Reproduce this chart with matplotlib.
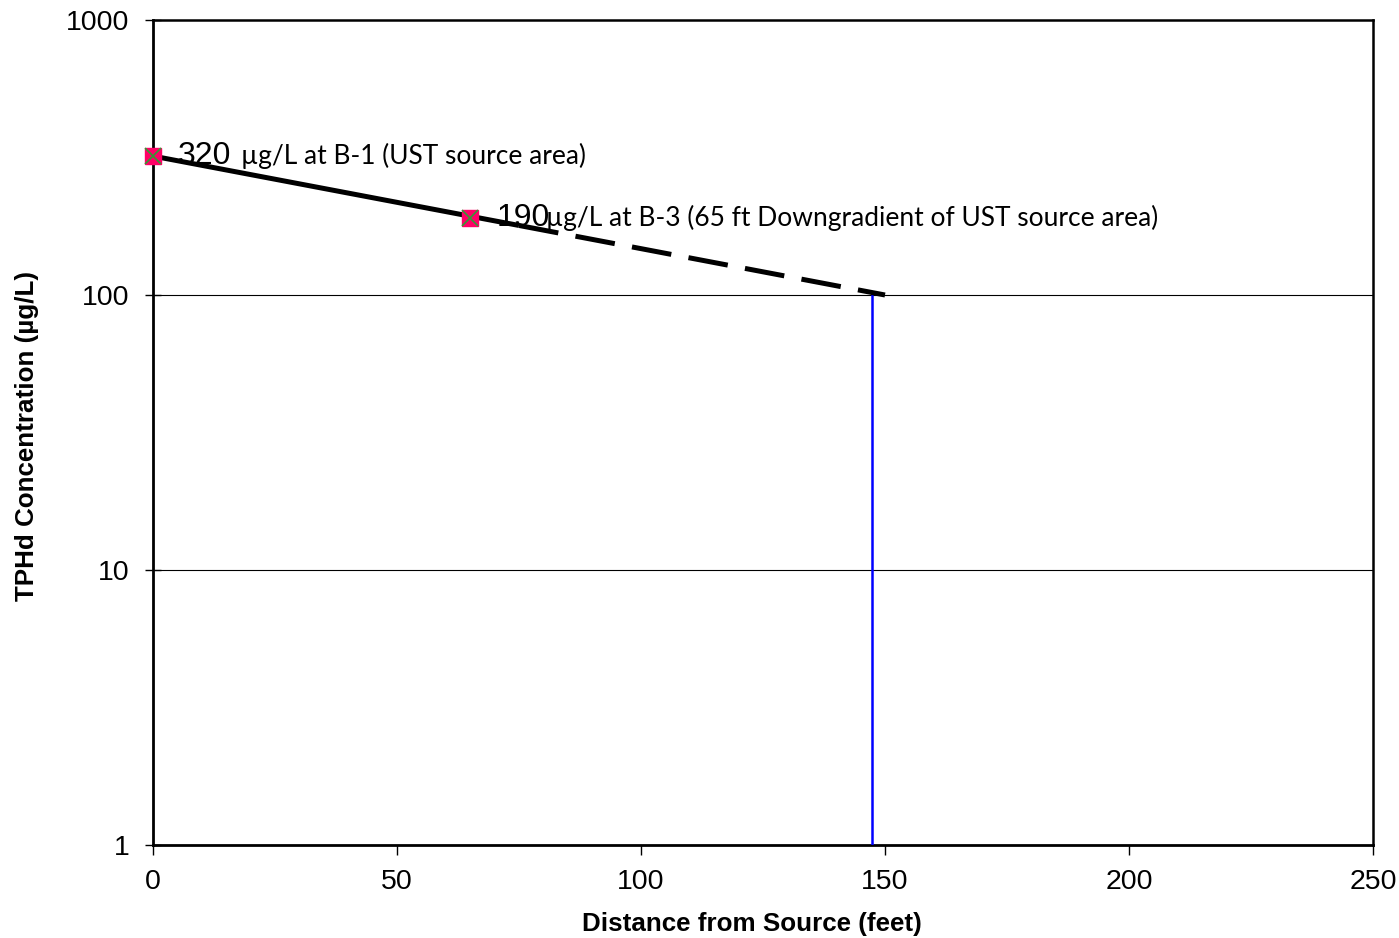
# Imports
import numpy as np
import matplotlib
matplotlib.use("Agg")
import matplotlib.pyplot as plt

# Data
# ============================================
sample_x = [0, 65]            # ft from source
sample_y = [320, 190]         # ug/L
sample_val = ["320", "190"]
sample_txt = ["µg/L at B-1 (UST source area)",
              "µg/L at B-3 (65 ft Downgradient of UST source area)"]

trend_solid_x = [0, 75]
trend_solid_y = [320, 179]
trend_dash_x = [75, 150]
trend_dash_y = [179, 100]

limit_x = [147.3, 147.3]
limit_y = [1, 100]

x_ticks = [0, 50, 100, 150, 200, 250]
y_ticks = [1, 10, 100, 1000]
# ============================================

plt.rc('font', family=['Liberation Sans', 'DejaVu Sans'])

fig = plt.figure(figsize=(13.99, 9.38), dpi=100)
ax = fig.add_axes([153 / 1399, 1 - 845 / 938, 1220 / 1399, 825 / 938])

ax.set_yscale('log')
ax.set_xlim(0, 250)
ax.set_ylim(1, 1000)

# gridlines
for g in [10, 100]:
    ax.axhline(g, color='black', lw=0.8, zorder=1)

# trend line
ax.plot(trend_solid_x, trend_solid_y, color='black', lw=3.6, zorder=4,
        solid_capstyle='butt')
ax.plot(trend_dash_x, trend_dash_y, color='black', lw=3.6, zorder=4,
        dashes=(8, 3.5))

# limit line
ax.plot(limit_x, limit_y, color='#0000FF', lw=1.8, zorder=3)

# sample points
ax.plot(sample_x, sample_y, ls='none', marker='s', ms=12,
        mfc='#FF0066', mec='#FF0066', zorder=5, clip_on=False)
ax.plot(sample_x, sample_y, ls='none', marker='x', ms=12, mew=1.2,
        color='#339933', zorder=6, clip_on=False)

# labels
val_off = [(25, 0), (26, 0)]
txt_off = [(88, 0), (76, 0)]
for i in range(len(sample_x)):
    ax.annotate(sample_val[i], (sample_x[i], sample_y[i]), xytext=val_off[i],
                textcoords='offset pixels', ha='left', va='center',
                fontsize=23, zorder=2)
    ax.annotate(sample_txt[i], (sample_x[i], sample_y[i]), xytext=txt_off[i],
                textcoords='offset pixels', ha='left', va='center',
                fontsize=19, family=['Lato', 'DejaVu Sans'], zorder=2)

ax.set_xticks(x_ticks)
ax.set_xticklabels([str(v) for v in x_ticks])
ax.set_yticks(y_ticks)
ax.set_yticklabels([str(v) for v in y_ticks])
ax.yaxis.set_minor_locator(matplotlib.ticker.NullLocator())
ax.tick_params(axis='x', direction='out', length=7, width=1, labelsize=20.5, pad=10)
ax.tick_params(axis='y', direction='inout', length=12, width=1, labelsize=20.5, pad=11)

for s in ['left', 'bottom']:
    ax.spines[s].set_linewidth(2)
for s in ['right', 'top']:
    ax.spines[s].set_linewidth(1.8)

ax.set_xlabel('Distance from Source (feet)', fontsize=18.7, fontweight='bold')
ax.set_ylabel('TPHd Concentration (µg/L)', fontsize=18.7, fontweight='bold')
ax.xaxis.set_label_coords(((583 + 921) / 2 - 153) / 1220, -(912 - 845) / 825)
ax.yaxis.set_label_coords(-(153 - 39) / 1220, 1 - (436 - 20) / 825)

fig.savefig('out.png', dpi=100)
